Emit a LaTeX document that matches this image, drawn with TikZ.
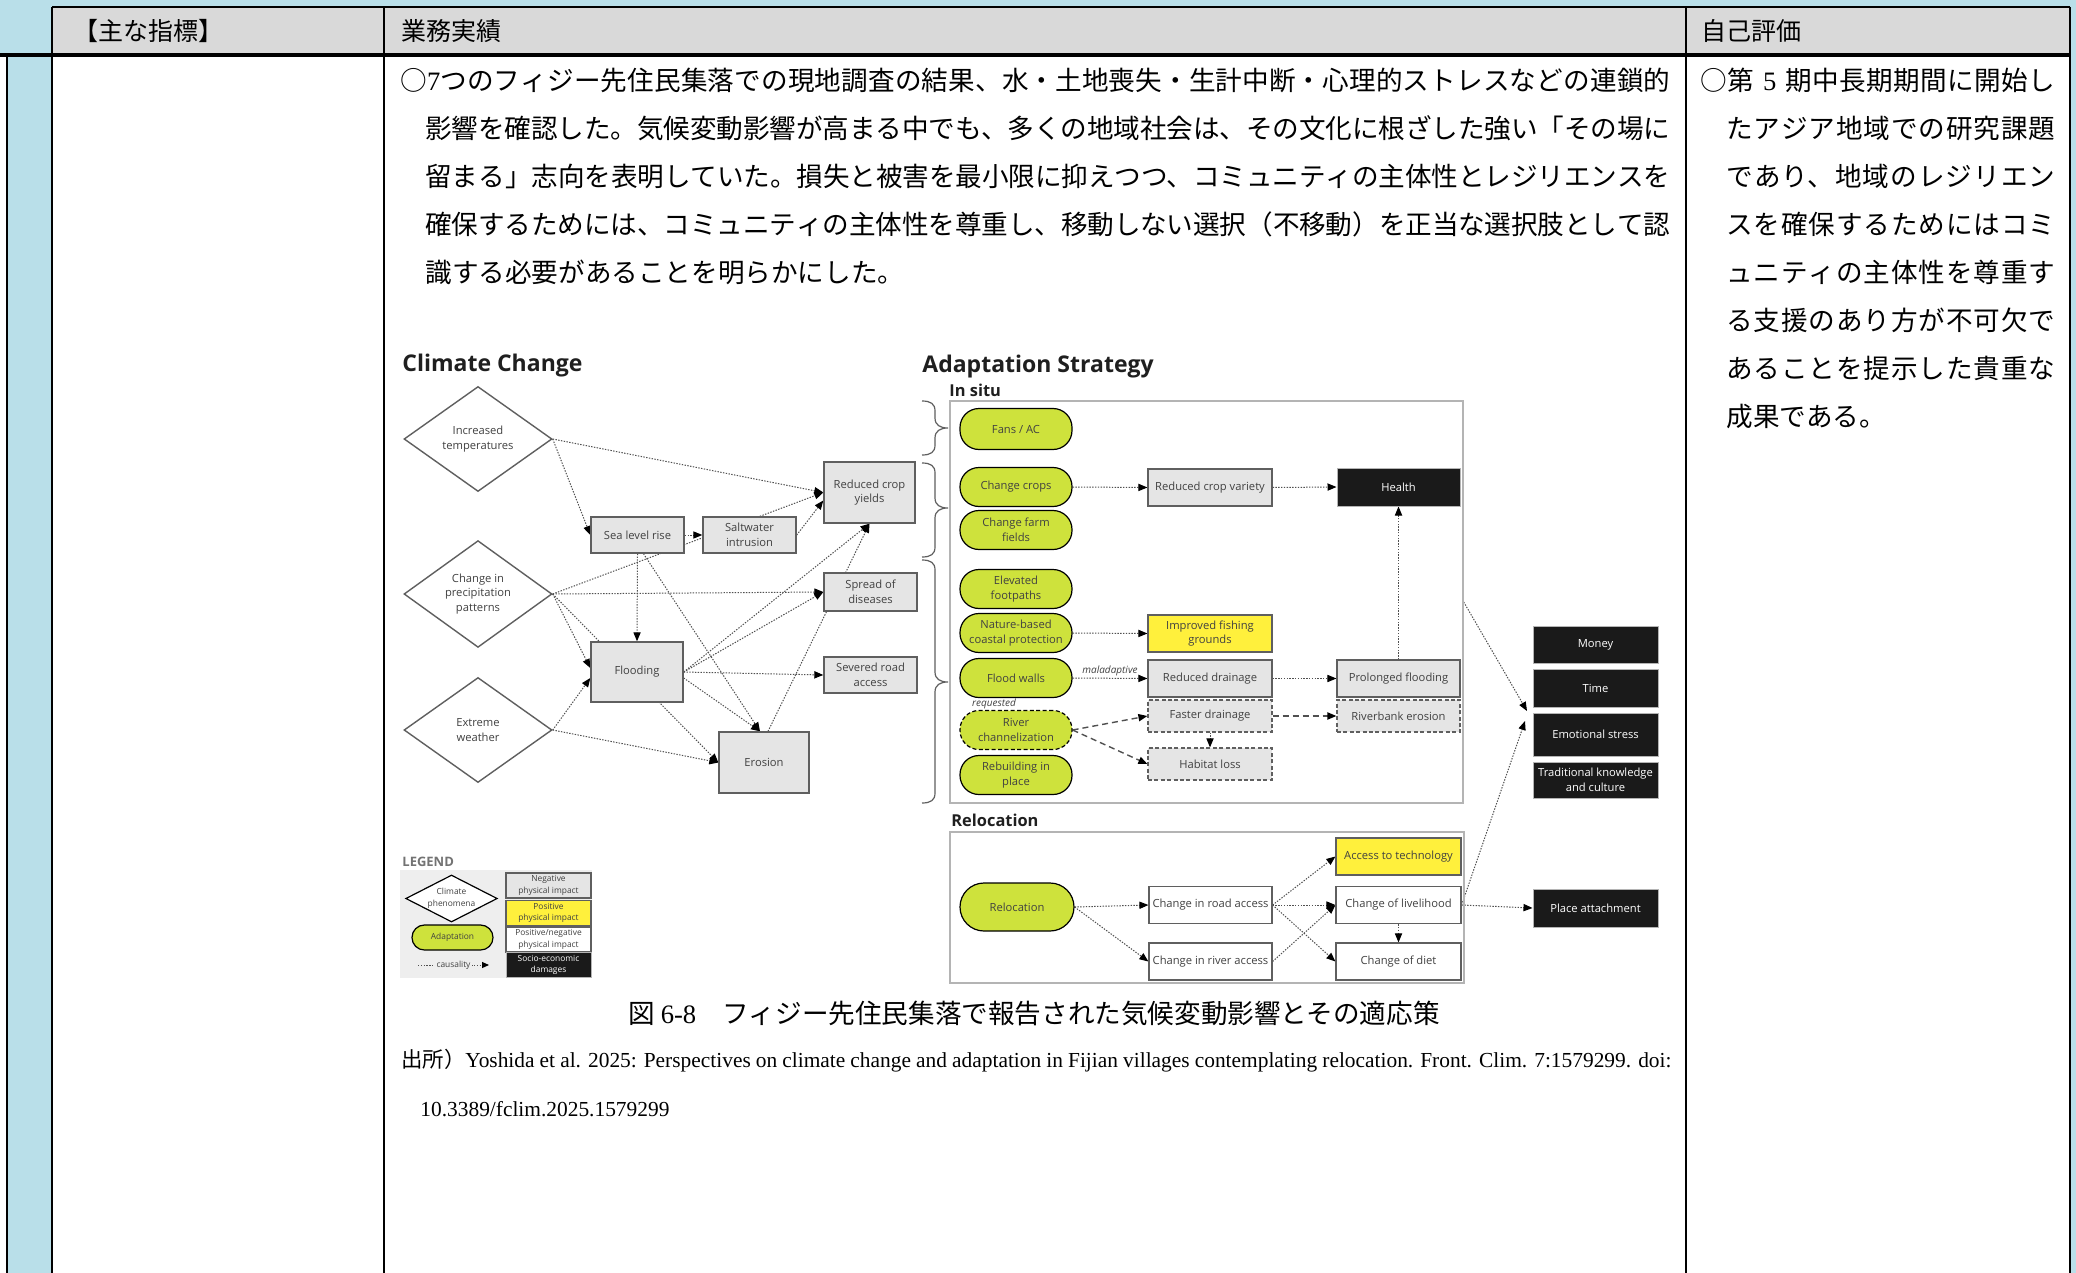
\documentclass[tikz,border=0pt]{standalone}
\usepackage{fontspec}
\setmainfont{Liberation Serif}
\newfontfamily\jp{Noto Sans CJK JP}
\newfontfamily\os{Open Sans}
\usetikzlibrary{shapes.geometric,arrows.meta,calc}
\definecolor{bgblue}{RGB}{185,223,233}
\definecolor{hdrgrey}{RGB}{217,217,217}
\definecolor{boxfill}{RGB}{229,229,229}
\definecolor{boxline}{RGB}{95,95,95}
\definecolor{txtgrey}{RGB}{65,65,65}
\definecolor{adgreen}{RGB}{206,226,60}
\definecolor{posyellow}{RGB}{255,240,60}
\definecolor{sockblack}{RGB}{26,26,26}
\definecolor{framegrey}{RGB}{180,180,180}
\definecolor{leggrey}{RGB}{238,238,238}
\definecolor{edgegrey}{RGB}{80,80,80}
\pgfdeclarelayer{bottom}
\pgfdeclarelayer{background}
\pgfsetlayers{bottom,background,main}
\XeTeXlinebreaklocale "ja"
\XeTeXlinebreakskip=0pt plus 3pt minus 0.5pt
\newcommand\dgf{\os\fontsize{5.6pt}{7.4pt}\selectfont}
\newcommand\lgf{\os\fontsize{4.2pt}{5.8pt}\selectfont}
\newcommand\mybrace[3]{\draw[brc] (922,#1) .. controls (931,#1) and (935,#1+3) .. (935,#1+10) -- (935,#2-10) .. controls (935,#2-3) and (940,#2) .. (948,#2) .. controls (940,#2) and (935,#2+3) .. (935,#2+10) -- (935,#3-10) .. controls (935,#3-3) and (931,#3) .. (922,#3);}
\begin{document}
\begin{tikzpicture}[x=0.5pt,y=-0.5pt,
  tline/.style={line width=1pt, draw=black},
  cc/.style={draw=boxline, line width=0.7pt, fill=boxfill, text=txtgrey, font=\dgf, align=center, inner sep=0pt},
  dia/.style={diamond, draw=boxline, line width=0.7pt, fill=white, text=txtgrey, font=\dgf, align=center, inner sep=0pt, minimum width=74pt, minimum height=52.5pt},
  ad/.style={draw=black, line width=0.6pt, fill=adgreen, rounded corners=9.5pt, minimum width=56pt, minimum height=19.5pt, text=txtgrey, font=\dgf, align=center, inner sep=0pt},
  sbox/.style={draw=boxline, line width=0.6pt, fill=boxfill, minimum width=62pt, minimum height=18.5pt, text=txtgrey, font=\dgf, align=center, inner sep=0pt},
  ybox/.style={sbox, fill=posyellow},
  wbox/.style={sbox, fill=white},
  kbox/.style={draw=framegrey, line width=0.5pt, fill=sockblack, text=white, minimum width=62.5pt, minimum height=18.5pt, font=\dgf, align=center, inner sep=0pt},
  dbox/.style={sbox, dash pattern=on 2pt off 1.2pt, minimum height=16pt},
  arr/.style={draw=edgegrey, line width=0.5pt, dash pattern=on 0.7pt off 0.7pt, -{Triangle[length=4.5pt,width=3.6pt,color=black,fill=black]}},
  darr/.style={draw=edgegrey, line width=0.7pt, dash pattern=on 3pt off 2pt, -{Triangle[length=4.5pt,width=3.6pt,color=black,fill=black]}},
  ttl/.style={font=\os\bfseries\fontsize{11.5pt}{13pt}\selectfont, text=black!88, anchor=west, inner sep=0pt},
  sttl/.style={font=\os\bfseries\fontsize{8.2pt}{10pt}\selectfont, text=black!88, anchor=west, inner sep=0pt},
  lbl/.style={font=\os\itshape\fontsize{5pt}{6pt}\selectfont, text=txtgrey, inner sep=1pt},
  frame/.style={draw=framegrey, line width=0.7pt, inner sep=0pt},
  brc/.style={draw=boxline, line width=0.6pt},
  jpbody/.style={font=\jp\fontsize{13.3pt}{24pt}\selectfont, inner sep=0pt, align=justify}
]
\useasboundingbox (0,0) rectangle (2076,1273);
% ---------- table ----------
\begin{pgfonlayer}{bottom}
\fill[bgblue] (0,0) rectangle (2076,1273);
\fill[hdrgrey] (52,7) rectangle (2070,55);
\fill[white] (52,55) rectangle (2070,1273);
\fill[white] (0,55) rectangle (6,1273);
\end{pgfonlayer}
\draw[tline] (52,7) -- (2070,7);
\draw[tline, line width=1.6pt] (0,55) -- (2070,55);
\foreach \x in {52,384,1686,2070} \draw[tline] (\x,7) -- (\x,1273);
\draw[tline] (7,55) -- (7,1273);
\node[anchor=base west, inner sep=0pt, font=\jp\fontsize{12.5pt}{14pt}\selectfont] (h1) at (73,41) {【主な指標】};
\node[anchor=base west, inner sep=0pt, font=\jp\fontsize{12.5pt}{14pt}\selectfont] (h2) at (401,41) {業務実績};
\node[anchor=base west, inner sep=0pt, font=\jp\fontsize{12.5pt}{14pt}\selectfont] (h3) at (1701,41) {自己評価};
\node[jpbody, anchor=base west, text width=635pt] (body) at (400,91) {\hangindent=12.5pt\hangafter=1 ○{\rmfamily 7}つのフィジー先住民集落での現地調査の結果、水・土地喪失・生計中断・心理的ストレスなどの連鎖的\break%
影響を確認した。気候変動影響が高まる中でも、多くの地域社会は、その文化に根ざした強い「その場に\break%
留まる」志向を表明していた。損失と被害を最小限に抑えつつ、コミュニティの主体性とレジリエンスを\break%
確保するためには、コミュニティの主体性を尊重し、移動しない選択（不移動）を正当な選択肢として認\break%
識する必要があることを明らかにした。\par};
\node[jpbody, anchor=base west, text width=177.5pt] (self) at (1700,91) {\hangindent=13pt\hangafter=1 ○第\hspace{4.5pt}{\rmfamily 5}\hspace{4.5pt}期中長期期間に開始し\break%
たアジア地域での研究課題\break%
であり、地域のレジリエン\break%
スを確保するためにはコミ\break%
ュニティの主体性を尊重す\break%
る支援のあり方が不可欠で\break%
あることを提示した貴重な\break%
成果である。\par};
\node[anchor=base, inner sep=0pt, font=\jp\fontsize{13.3pt}{16pt}\selectfont] (cap) at (1034,1023) {図 {\rmfamily 6-8}　フィジー先住民集落で報告された気候変動影響とその適応策};
\node[anchor=base west, inner sep=0pt, text width=635pt, align=justify, font=\rmfamily\fontsize{10.7pt}{24.5pt}\selectfont] (src) at (401,1067) {\hangindent=9.5pt\hangafter=1 {\jp 出所）}Yoshida et al. 2025: Perspectives on climate change and adaptation in Fijian villages contemplating relocation. Front. Clim. 7:1579299. doi:\break 10.3389/fclim.2025.1579299\par};
% ---------- climate change ----------
\node[ttl] (tcc) at (402,366) {Climate Change};
\node[dia] (IT) at (478,439) {Increased\\temperatures};
\node[dia] (CP) at (478,594) {Change in\\precipitation\\patterns};
\node[dia] (EW) at (478,730) {Extreme\\weather};
\node[cc, minimum width=46.5pt, minimum height=18pt] (SLR) at (637.5,535) {Sea level rise};
\node[cc, minimum width=46.5pt, minimum height=18pt] (SWI) at (749.5,535) {Saltwater\\intrusion};
\node[cc, minimum width=45.5pt, minimum height=30.5pt] (RCY) at (869.5,492.5) {Reduced crop\\yields};
\node[cc, minimum width=46.5pt, minimum height=19pt] (SPD) at (870.5,592) {Spread of\\diseases};
\node[cc, minimum width=46.5pt, minimum height=18pt] (SRA) at (870.5,675) {Severed road\\access};
\node[cc, minimum width=46pt, minimum height=30pt] (FL) at (637,672) {Flooding};
\node[cc, minimum width=45pt, minimum height=30.5pt] (ER) at (764,762.5) {Erosion};
% ---------- adaptation ----------
\node[ttl] (tas) at (922,367) {Adaptation Strategy};
\node[sttl] (tis) at (949,390) {In situ};
\node[frame, minimum width=256.5pt, minimum height=201pt] (insitu) at (1206.5,602) {};
\node[sttl] (trl) at (951,820) {Relocation};
\node[frame, minimum width=257pt, minimum height=75.5pt] (relbox) at (1207,907.5) {};
\mybrace{401}{428}{455}
\mybrace{463}{508}{557}
\mybrace{560}{682}{803}
\node[ad, minimum height=20.5pt] (FAN) at (1016,429) {Fans / AC};
\node[ad] (CCR) at (1016,487) {Change crops};
\node[ad] (CFF) at (1016,530) {Change farm\\fields};
\node[ad] (EFP) at (1016,589) {Elevated\\footpaths};
\node[ad] (NBC) at (1016,633) {Nature-based\\coastal protection};
\node[ad] (FW) at (1016,678) {Flood walls};
\node[ad, dash pattern=on 2pt off 1.2pt] (RC) at (1016,730) {River\\channelization};
\node[ad] (RIP) at (1016,775) {Rebuilding in\\place};
\node[lbl] (req) at (994,704) {requested};
\node[sbox] (RCV) at (1210,487.5) {Reduced crop variety};
\node[kbox, minimum width=61.5pt, minimum height=19pt] (HL) at (1398.5,487) {Health};
\node[ybox] (IFG) at (1210,633.5) {Improved fishing\\grounds};
\node[sbox] (RD) at (1210,678.5) {Reduced drainage};
\node[sbox, minimum width=61.5pt] (PF) at (1398.5,678.5) {Prolonged flooding};
\node[dbox] (FD) at (1210,716) {Faster drainage};
\node[dbox, minimum width=61.5pt] (RBE) at (1398.5,716) {Riverbank erosion};
\node[dbox] (HBL) at (1210,764) {Habitat loss};
\node[ad, minimum width=57pt, minimum height=24pt, rounded corners=12pt] (REL) at (1017,907) {Relocation};
\node[wbox, minimum width=61.5pt] (CRA) at (1210.5,905) {Change in road access};
\node[wbox, minimum width=61.5pt] (CRV) at (1210.5,961.5) {Change in river access};
\node[ybox, minimum width=62.5pt] (ATT) at (1398.5,856.5) {Access to technology};
\node[wbox, minimum width=62.5pt] (CLH) at (1398.5,905) {Change of livelihood};
\node[wbox, minimum width=62.5pt] (CDT) at (1398.5,961.5) {Change of diet};
% ---------- socio-economic ----------
\node[kbox] (MON) at (1595.5,644.5) {Money};
\node[kbox, minimum height=19pt] (TIM) at (1595.5,688) {Time};
\node[kbox, minimum height=21.5pt] (EMO) at (1595.5,734.5) {Emotional stress};
\node[kbox, minimum height=18pt] (TKC) at (1595.5,780) {Traditional knowledge\\and culture};
\node[kbox, minimum height=19pt] (PLA) at (1595.5,908) {Place attachment};
\coordinate (s1) at (1527,711);
\coordinate (s2) at (1525,721);
% ---------- legend ----------
\node[fill=leggrey, minimum width=96pt, minimum height=54pt, inner sep=0pt] (legbg) at (496,924) {};
\node[anchor=west, inner sep=0pt, font=\os\bfseries\fontsize{6.5pt}{7pt}\selectfont, text=black!55] (legt) at (402,862) {LEGEND};
\node[dia, draw=black, line width=0.6pt, aspect=2.2, minimum width=43.5pt, minimum height=23.5pt, font=\lgf] (LD) at (451.5,898.5) {Climate\\phenomena};
\node[ad, minimum width=40.5pt, minimum height=12.5pt, rounded corners=6.2pt, font=\lgf] (LA) at (452.5,937.5) {Adaptation};
\coordinate (lc1) at (418,965);
\coordinate (lc2) at (489,965);
\node[sbox, minimum width=42.5pt, minimum height=12.5pt, font=\lgf] (LN) at (548.5,885.5) {Negative\\physical impact};
\node[ybox, minimum width=42.5pt, minimum height=12.5pt, font=\lgf] (LP) at (548.5,913) {Positive\\physical impact};
\node[wbox, minimum width=42.5pt, minimum height=12.5pt, font=\lgf] (LPN) at (548.5,939.5) {Positive/negative\\physical impact};
\node[kbox, minimum width=42.5pt, minimum height=12.5pt, font=\lgf] (LS) at (548.5,965) {Socio-economic\\damages};
\draw[arr, -{Triangle[length=3.5pt,width=3pt,color=black,fill=black]}] (lc1) -- node[fill=leggrey, inner sep=0.6pt, font=\lgf, text=txtgrey] (lcl) {causality} (lc2);
% ---------- connectors ----------
\begin{pgfonlayer}{background}
\draw[arr] (IT.east) -- (RCY.west);
\draw[arr] (IT.east) -- (SLR.west);
\draw[arr] (SLR.east) -- (SWI.west);
\draw[arr] (CP.east) -- (RCY.west);
\draw[arr] (SWI.east) -- ([yshift=-4pt]RCY.west);
\draw[arr] (CP.east) -- (SPD.west);
\draw[arr] (CP.east) -- ([yshift=2pt]FL.west);
\draw[arr] (CP.east) -- (ER.west);
\draw[arr] (SLR.south) -- (FL.north);
\draw[arr] ([xshift=3pt]SLR.south) -- ([xshift=-2pt]ER.north);
\draw[arr] (EW.east) -- ([yshift=-3pt]FL.west);
\draw[arr] (EW.east) -- (ER.west);
\draw[arr] (FL.east) -- (RCY.south);
\draw[arr] ([xshift=2pt]ER.north) -- (RCY.south);
\draw[arr] (FL.east) -- (SPD.west);
\draw[arr] (FL.east) -- (SRA.west);
\draw[arr] ([yshift=-3pt]FL.east) -- ([xshift=-2pt]ER.north);
\draw[arr] (CCR.east) -- (RCV.west);
\draw[arr] (RCV.east) -- (HL.west);
\draw[arr] (NBC.east) -- (IFG.west);
\draw[arr] (FW.east) -- node[lbl, above] (mal) {maladaptive} (RD.west);
\draw[arr] (RD.east) -- (PF.west);
\draw[arr] (PF.north) -- (HL.south);
\draw[darr] (RC.east) -- (FD.west);
\draw[darr] (RC.east) -- (HBL.west);
\draw[darr] (FD.east) -- (RBE.west);
\draw[arr] (FD.south) -- (HBL.north);
\draw[arr] (REL.east) -- (CRA.west);
\draw[arr] (REL.east) -- (CRV.west);
\draw[arr] (CRA.east) -- (ATT.west);
\draw[arr] (CRA.east) -- (CLH.west);
\draw[arr] (CRA.east) -- (CDT.west);
\draw[arr] (CRV.east) -- (CLH.west);
\draw[arr] (CLH.south) -- (CDT.north);
\draw[arr] (CLH.east) -- (PLA.west);
\draw[arr] (CLH.east) -- (s2);
\draw[arr] (insitu.east) -- (s1);
\end{pgfonlayer}
\end{tikzpicture}
\end{document}
